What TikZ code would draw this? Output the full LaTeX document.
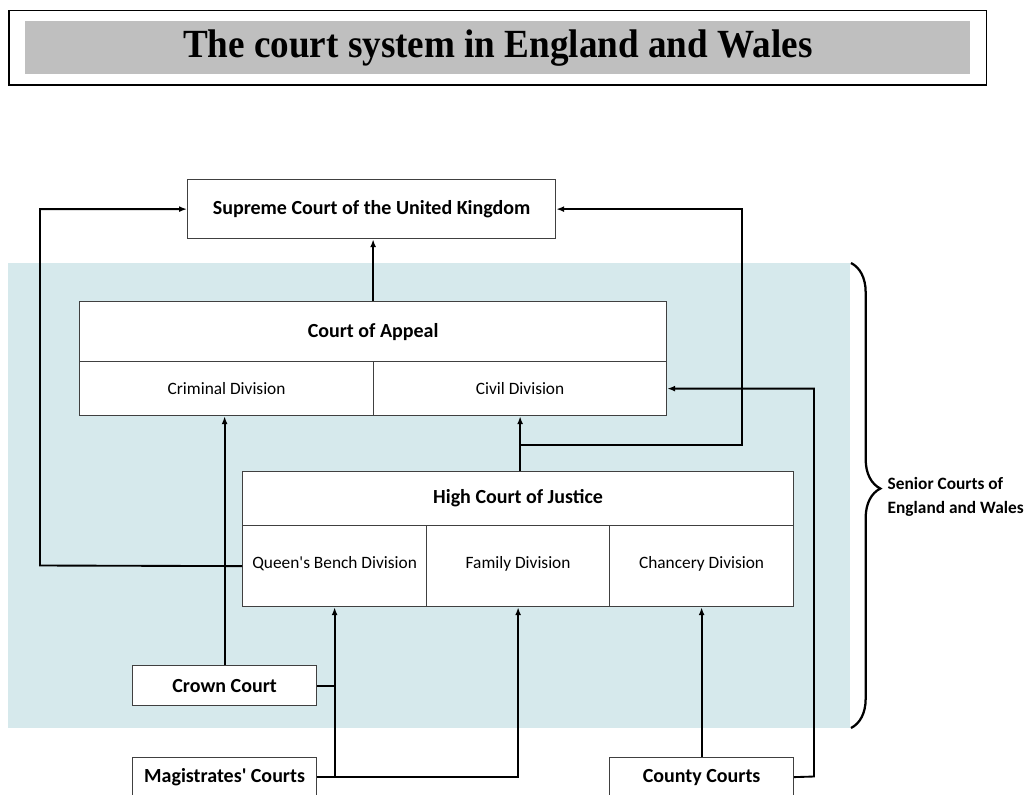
\documentclass[tikz,border=0pt]{standalone}
\usepackage{graphicx}
\usepackage{fontspec}
\setmainfont{Carlito}
\newfontfamily\titlefont{Liberation Serif}
\newcommand\straightquote{{\XeTeXglyph\XeTeXcharglyph"0027\relax}}
\usetikzlibrary{arrows.meta,decorations.pathreplacing,positioning}
\definecolor{bgblue}{RGB}{214,233,236}
\definecolor{titlegray}{RGB}{191,191,191}
\definecolor{boxline}{RGB}{64,64,64}
\begin{document}
\begin{tikzpicture}[x=0.75pt,y=-0.75pt,
  cell/.style={draw=boxline,line width=0.9pt,fill=white,inner sep=0pt,anchor=north west},
  boldlab/.style={font=\fontsize{15}{18}\selectfont\bfseries},
  divlab/.style={font=\fontsize{13}{16}\selectfont},
  conn/.style={line width=1.4pt,black},
  arr/.style={conn,-{Latex[length=6pt,width=4.5pt]}}]
\useasboundingbox (0,0) rectangle (1027,794);
\clip (0,0) rectangle (1027,794);
% title
\node[draw=black,line width=1.1pt,minimum width=977.4*0.75pt,minimum height=74.3*0.75pt,inner sep=0pt,anchor=north west] (tframe) at (8.3,10) {};
\node[fill=titlegray,minimum width=945*0.75pt,minimum height=52.3*0.75pt,inner sep=0pt,anchor=north west] (tgray) at (25,21) {};
\node[font=\titlefont\fontsize{28}{32}\selectfont\bfseries] (title) at ([yshift=-0.5pt]tgray.center) {\scalebox{0.995}[1.07]{The court system in England and Wales}};
% background
\fill[bgblue] (8,263) rectangle (850,728);
% boxes
\node[cell,minimum width=368*0.75pt,minimum height=59*0.75pt] (sup) at (187,179) {};
\node[boldlab] at (sup.center) {Supreme Court of the United Kingdom};
\node[cell,minimum width=587*0.75pt,minimum height=60*0.75pt] (coa) at (79,301) {};
\node[boldlab] at (coa.center) {Court of Appeal};
\node[cell,minimum width=294*0.75pt,minimum height=54*0.75pt] (crim) at (79,361) {};
\node[divlab] at (crim.center) {Criminal Division};
\node[cell,minimum width=293*0.75pt,minimum height=54*0.75pt] (civ) at (373,361) {};
\node[divlab] at (civ.center) {Civil Division};
\node[cell,minimum width=551*0.75pt,minimum height=54*0.75pt] (hc) at (242,471) {};
\node[boldlab] at (hc.center) {High Court of Justice};
\node[cell,minimum width=184*0.75pt,minimum height=81*0.75pt] (qb) at (242,525) {};
\node[divlab] at ([yshift=1.5pt]qb.center) {Queen\straightquote s Bench Division};
\node[cell,minimum width=183*0.75pt,minimum height=81*0.75pt] (fam) at (426,525) {};
\node[divlab] at ([yshift=1.5pt]fam.center) {Family Division};
\node[cell,minimum width=184*0.75pt,minimum height=81*0.75pt] (chan) at (609,525) {};
\node[divlab] at ([yshift=1.5pt]chan.center) {Chancery Division};
\node[cell,minimum width=184*0.75pt,minimum height=40*0.75pt] (crown) at (132,665) {};
\node[boldlab] at (crown.center) {Crown Court};
\node[cell,minimum width=184*0.75pt,minimum height=39*0.75pt] (mag) at (132,757) {};
\node[boldlab] at (mag.center) {Magistrates\straightquote\ Courts};
\node[cell,minimum width=184*0.75pt,minimum height=39*0.75pt] (county) at (609,757) {};
\node[boldlab] at (county.center) {County Courts};
% connectors
\draw[arr] (coa.north) -- (coa.north |- sup.south);
\draw[arr] (crown.north) -- (crown.north |- crim.south);
\draw[arr] (hc.north -| civ.south) -- (civ.south);
\coordinate (j1) at (519.5,445);
\coordinate (r1) at (742,445);
\draw[arr] (j1) -- (r1) |- (sup.east);
\coordinate (l1) at (40,565.5);
\draw[arr] (qb.west) -- (l1) |- (sup.west);
\draw[arr] (mag.east) -| (fam.south);
\draw[arr] (qb.south |- mag.east) -- (qb.south);
\draw[conn] (crown.east) -- (qb.south |- crown.east);
\draw[arr] (county.north) -- (chan.south);
\coordinate (c1) at (814,776.5);
\draw[arr] (county.east) -- (c1) |- (civ.east);
% brace
\coordinate (btop) at (851,263);
\coordinate (bbot) at (851,728);
\draw[line width=1.7pt,decorate,decoration={brace,amplitude=22pt,aspect=0.485}] (btop) -- (bbot);
\node[font=\fontsize{13}{18}\selectfont\bfseries,align=left,anchor=west] (senior) at (883,497) {Senior Courts of\\England and Wales};
\end{tikzpicture}
\end{document}
